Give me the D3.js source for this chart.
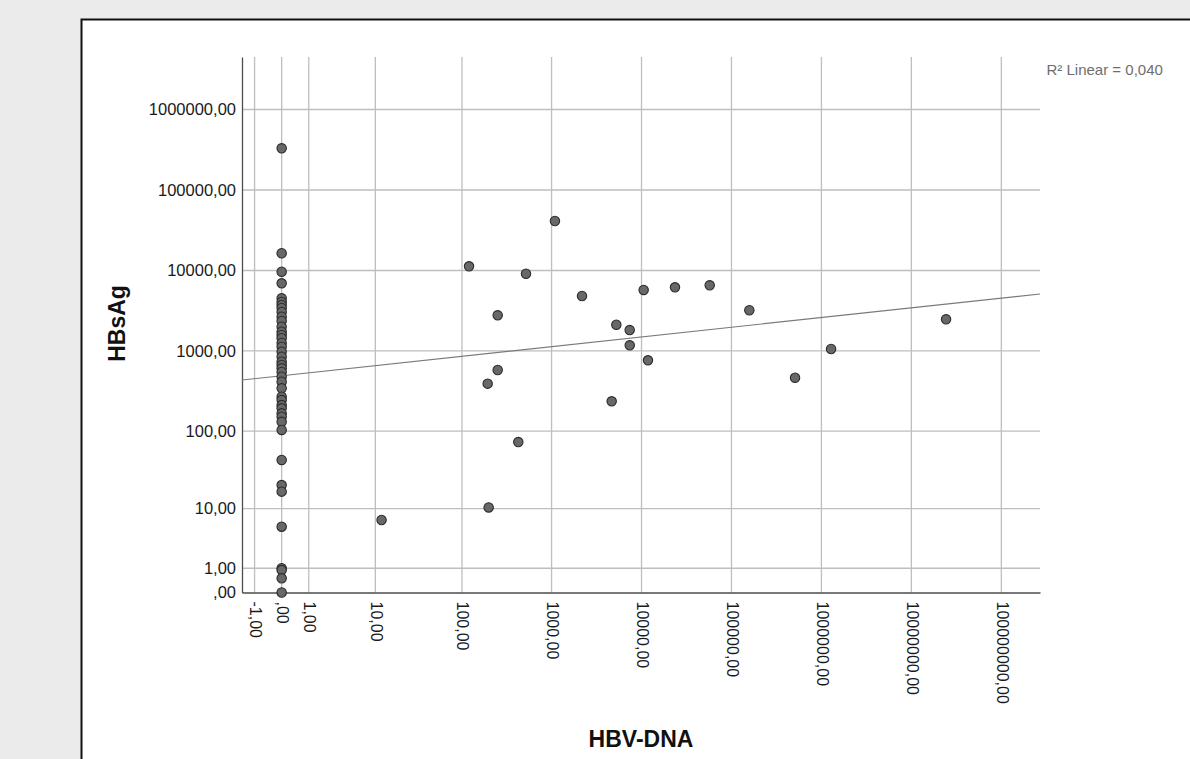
<!DOCTYPE html>
<html>
<head>
<meta charset="utf-8">
<script src="https://cdn.jsdelivr.net/npm/d3@7"></script>
<style>
  html, body { margin: 0; padding: 0; background: #ebebeb; }
  svg { display: block; }
</style>
</head>
<body>
<div id="chart"></div>
<script>
// Data (HBV-DNA vs HBsAg)

// cases with HBV-DNA = 0 : only their HBsAg value
const hbsAgDnaZero = [329600, 16370, 9660, 6930, 4515, 4060, 3725, 3420, 3050, 2665,
    2358, 2005, 1738, 1581, 1439, 1257, 1131, 980, 849, 736, 669, 609, 548, 479,
    415, 343, 270, 245, 212, 193, 167, 152, 131, 103.5, 43.3, 20.6, 16.9, 5.57,
    1.0, 0.9, 0.5, 0]

// cases with a detectable HBV-DNA
const hbvDnaPos = [120, 1090, 519, 251, 2180, 10570, 23560, 5250, 7390, 7400,
    11800, 251, 194, 4660, 426, 199, 57300, 158000, 509000, 1280000, 24300000, 11.9]
const hbsAgPos = [11270, 41200, 9120, 2775, 4820, 5730, 6180, 2120, 1820, 1176,
    765, 580, 392, 236, 73, 10.4, 6550, 3205, 465, 1058, 2477, 6.96]

// axis ticks
const xTicks = [-1, 0, 1, 10, 100, 1000, 10000, 100000, 1000000, 10000000, 100000000]
const yTicks = [0, 1, 10, 100, 1000, 10000, 100000, 1000000]

// linear fit line (ends at the axis limits) and its label
const xDomain = [-1.76, 269000000]
const yDomain = [0, 4490000]
const fitY = [435, 5105]
const fitLabel = "R\u00B2 Linear = 0,040"

// Layout
const width = 1190
const height = 759
const margin = { top: 57, right: 150, bottom: 166.5, left: 242 }
const plotRight = width - margin.right
const plotBottom = height - margin.bottom

const font = "'Liberation Sans', Arial, sans-serif"

const points = hbsAgDnaZero.map(v => ({ x: 0, y: v }))
    .concat(hbvDnaPos.map((v, i) => ({ x: v, y: hbsAgPos[i] })))

const svg = d3.select("#chart")
    .append("svg")
    .attr("width", width)
    .attr("height", height)

// white chart panel with black frame
svg.append("rect")
    .attr("x", 81.5)
    .attr("y", 19.5)
    .attr("width", width)
    .attr("height", height)
    .attr("fill", "#ffffff")
    .attr("stroke", "#111")
    .attr("stroke-width", 2)

// Scales - SPSS "safe log" axes, sign(x)*log(1+|x|)
const x = d3.scaleSymlog().constant(1)
    .domain(xDomain)
    .range([margin.left, plotRight])

const y = d3.scaleSymlog().constant(1)
    .domain(yDomain)
    .range([plotBottom, margin.top])

const fmt = v => v === 0 ? ",00" : v.toFixed(2).replace(".", ",")

// grid
const grid = svg.append("g").attr("id", "grid")
grid.selectAll(".vgrid")
    .data(xTicks)
    .enter().append("line")
    .attr("x1", d => x(d)).attr("x2", d => x(d))
    .attr("y1", margin.top).attr("y2", plotBottom)
    .attr("stroke", "#bebebe")
    .attr("stroke-width", 1.3)

grid.selectAll(".hgrid")
    .data(yTicks.filter(d => d !== 0))
    .enter().append("line")
    .attr("x1", margin.left).attr("x2", plotRight)
    .attr("y1", d => y(d)).attr("y2", d => y(d))
    .attr("stroke", "#bebebe")
    .attr("stroke-width", 1.3)

// axes
const xAxis = d3.axisBottom(x).tickValues(xTicks).tickFormat(fmt).tickSize(0).tickPadding(0)
const yAxis = d3.axisLeft(y).tickValues(yTicks).tickFormat(fmt).tickSize(0).tickPadding(6)

const xAxisGroup = svg.append("g")
    .attr("transform", `translate(0, ${plotBottom})`)
    .call(xAxis)
xAxisGroup.select(".domain")
    .attr("stroke", "#4d4d4d")
    .attr("stroke-width", 1.3)
xAxisGroup.selectAll("text")
    .attr("transform", "rotate(90)")
    .attr("x", 9)
    .attr("y", 0)
    .attr("dy", "0.33em")
    .style("text-anchor", "start")
    .style("font-family", font)
    .style("font-size", "16px")
    .style("fill", "#1a1a1a")

const yAxisGroup = svg.append("g")
    .attr("transform", `translate(${margin.left}, 0)`)
    .call(yAxis)
yAxisGroup.select(".domain")
    .attr("stroke", "#4d4d4d")
    .attr("stroke-width", 1.3)
yAxisGroup.selectAll("text")
    .style("font-family", font)
    .style("font-size", "16.5px")
    .style("fill", "#1a1a1a")

// fit line
svg.append("path")
    .datum(xDomain.map((d, i) => [d, fitY[i]]))
    .attr("d", d3.line().x(d => x(d[0])).y(d => y(d[1])))
    .attr("fill", "none")
    .attr("stroke", "#7a7a7a")
    .attr("stroke-width", 1.2)

// points
svg.append("g").selectAll("circle")
    .data(points)
    .enter().append("circle")
    .attr("cx", d => x(d.x))
    .attr("cy", d => y(d.y))
    .attr("r", 4.7)
    .attr("fill", "#686868")
    .attr("stroke", "#2b2b2b")
    .attr("stroke-width", 1.1)

// labels
svg.append("text")
    .attr("x", plotRight + 6.5)
    .attr("y", 75)
    .text(fitLabel)
    .style("font-family", font)
    .style("font-size", "15px")
    .style("fill", "#6e6e6e")

svg.append("text")
    .attr("x", (margin.left + plotRight) / 2)
    .attr("y", 747)
    .attr("text-anchor", "middle")
    .text("HBV-DNA")
    .style("font-family", font)
    .style("font-size", "23px")
    .style("font-weight", "bold")
    .style("fill", "#111")

svg.append("text")
    .attr("transform", "translate(125, 323.5) rotate(-90)")
    .attr("text-anchor", "middle")
    .text("HBsAg")
    .style("font-family", font)
    .style("font-size", "23px")
    .style("font-weight", "bold")
    .style("fill", "#111")
</script>
</body>
</html>
